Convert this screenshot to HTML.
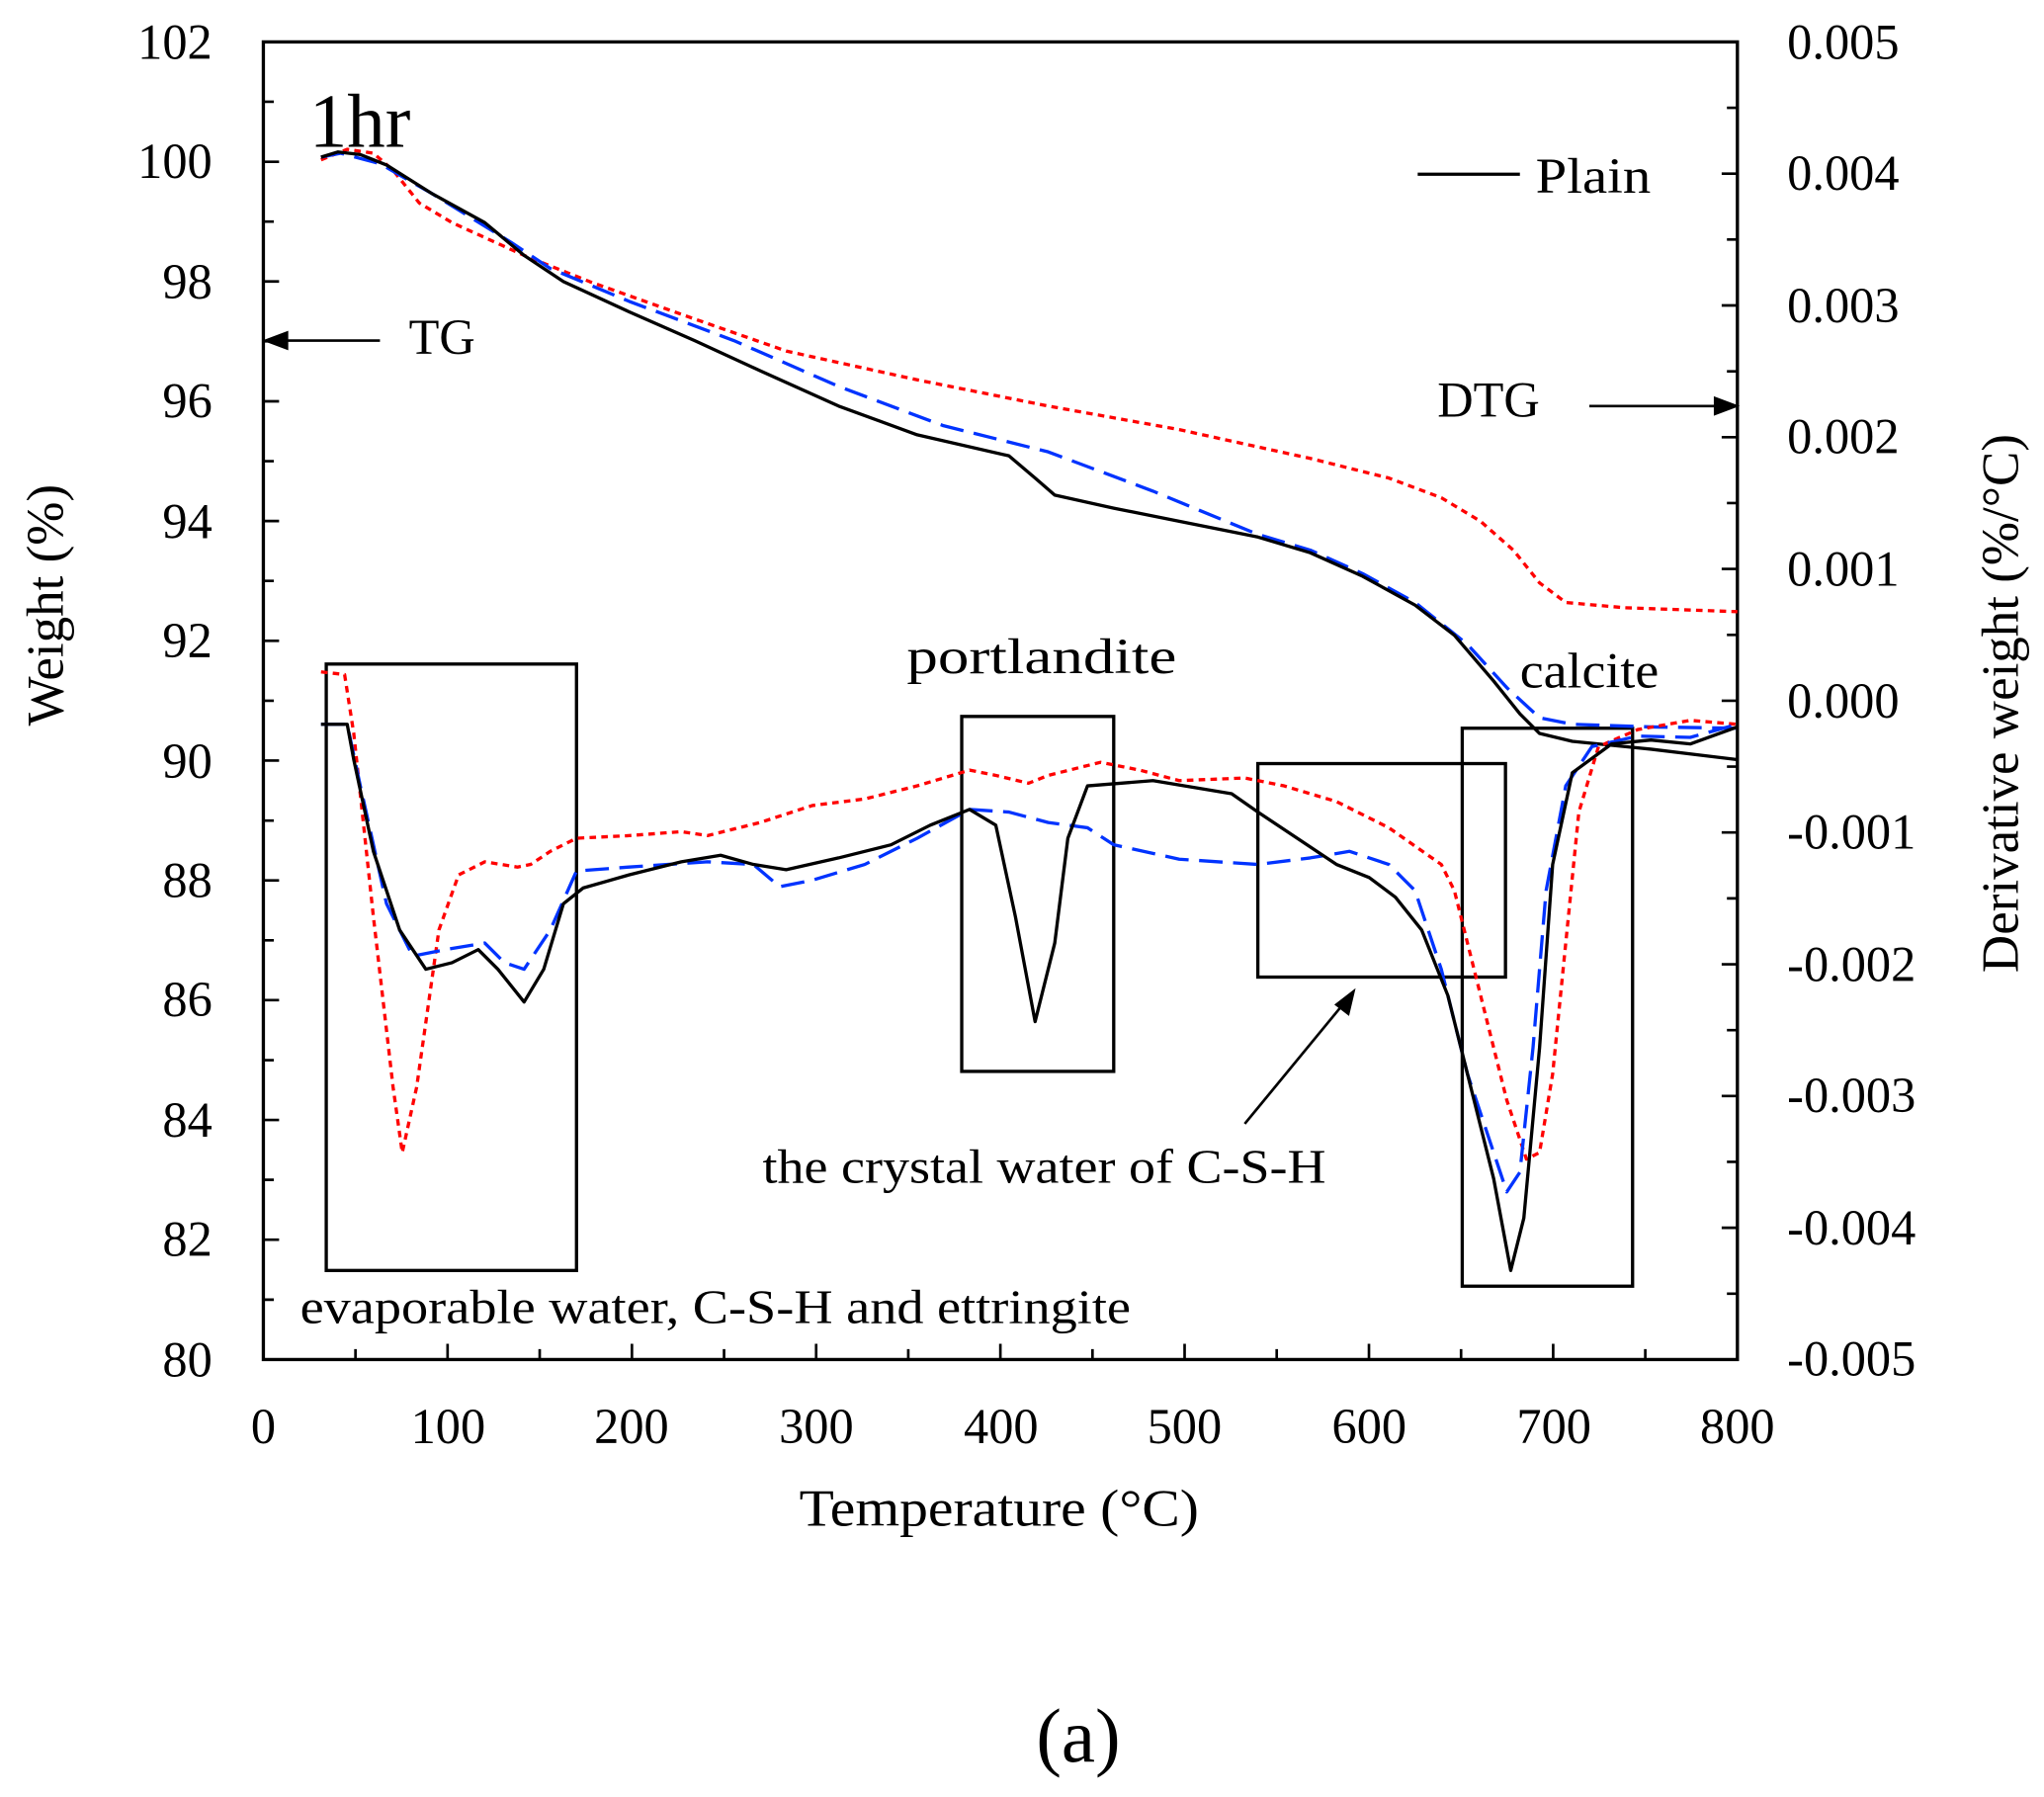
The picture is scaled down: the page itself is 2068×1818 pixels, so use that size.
<!DOCTYPE html>
<html><head><style>html,body{margin:0;padding:0;background:#fff;}svg{display:block}</style></head>
<body>
<svg width="2068" height="1818" viewBox="0 0 1560 1372" preserveAspectRatio="none" xmlns="http://www.w3.org/2000/svg" font-family="Liberation Serif, serif">
<rect x="201" y="32" width="1125" height="1006" fill="none" stroke="#000" stroke-width="2.5"/>
<g stroke="#000" stroke-width="2">
<path d="M201 77.7h8M201 123.5h12M201 169.2h8M201 214.9h12M201 260.6h8M201 306.4h12M201 352.1h8M201 397.8h12M201 443.5h8M201 489.3h12M201 535h8M201 580.7h12M201 626.5h8M201 672.2h12M201 717.9h8M201 763.6h12M201 809.4h8M201 855.1h12M201 900.8h8M201 946.5h12M201 992.3h8"/>
<path d="M1326 82.3h-8M1326 132.6h-12M1326 182.9h-8M1326 233.2h-12M1326 283.5h-8M1326 333.8h-12M1326 384.1h-8M1326 434.4h-12M1326 484.7h-8M1326 535h-12M1326 585.3h-8M1326 635.6h-12M1326 685.9h-8M1326 736.2h-12M1326 786.5h-8M1326 836.8h-12M1326 887.1h-8M1326 937.4h-12M1326 987.7h-8"/>
<path d="M271.3 1038v-8M341.6 1038v-12M411.9 1038v-8M482.3 1038v-12M552.6 1038v-8M622.9 1038v-12M693.2 1038v-8M763.5 1038v-12M833.8 1038v-8M904.1 1038v-12M974.4 1038v-8M1044.8 1038v-12M1115.1 1038v-8M1185.4 1038v-12M1255.7 1038v-8"/>
</g>
<g font-size="38" text-anchor="end">
<text x="162" y="45">102</text><text x="162" y="136">100</text><text x="162" y="228">98</text><text x="162" y="319">96</text><text x="162" y="411">94</text><text x="162" y="502">92</text><text x="162" y="594">90</text><text x="162" y="685">88</text><text x="162" y="776">86</text><text x="162" y="868">84</text><text x="162" y="959">82</text><text x="162" y="1051">80</text>
</g>
<g font-size="38" text-anchor="start">
<text x="1364" y="45">0.005</text><text x="1364" y="145">0.004</text><text x="1364" y="246">0.003</text><text x="1364" y="346">0.002</text><text x="1364" y="447">0.001</text><text x="1364" y="548">0.000</text><text x="1364" y="648">-0.001</text><text x="1364" y="749">-0.002</text><text x="1364" y="849">-0.003</text><text x="1364" y="950">-0.004</text><text x="1364" y="1050">-0.005</text>
</g>
<g font-size="38" text-anchor="middle">
<text x="201" y="1102">0</text><text x="342" y="1102">100</text><text x="482" y="1102">200</text><text x="623" y="1102">300</text><text x="764" y="1102">400</text><text x="904" y="1102">500</text><text x="1045" y="1102">600</text><text x="1186" y="1102">700</text><text x="1326" y="1102">800</text>
</g>
<text x="610" y="1165" font-size="40" textLength="305" lengthAdjust="spacingAndGlyphs">Temperature  (°C)</text>
<text transform="translate(48,462) rotate(-90)" font-size="40" text-anchor="middle">Weight  (%)</text>
<text transform="translate(1540,537) rotate(-90)" font-size="40" text-anchor="middle">Derivative  weight  (%/°C)</text>
<text x="823" y="1345" font-size="58" text-anchor="middle">(a)</text>
<text x="236" y="112" font-size="58">1hr</text>
<line x1="1082" y1="133" x2="1160" y2="133" stroke="#000" stroke-width="2.5"/>
<text x="1172" y="147" font-size="38" textLength="88" lengthAdjust="spacingAndGlyphs">Plain</text>
<text x="312" y="270" font-size="38">TG</text>
<text x="1097" y="318" font-size="38">DTG</text>
<text x="692" y="514" font-size="38" textLength="206" lengthAdjust="spacingAndGlyphs">portlandite</text>
<text x="1160" y="525" font-size="38" textLength="106" lengthAdjust="spacingAndGlyphs">calcite</text>
<text x="582" y="903" font-size="37" textLength="430" lengthAdjust="spacingAndGlyphs">the crystal water of C-S-H</text>
<text x="229" y="1010" font-size="37" textLength="634" lengthAdjust="spacingAndGlyphs">evaporable water, C-S-H and ettringite</text>
<g stroke="#000" stroke-width="2" fill="#000">
<line x1="290" y1="260" x2="215" y2="260"/><path d="M203 260l16-6v12z"/>
<line x1="1213" y1="310" x2="1312" y2="310"/><path d="M1325 310l-16-6v12z"/>
<line x1="950" y1="858" x2="1024" y2="768"/><path d="M1033 757l-4 17-9-7z"/>
</g>
<g fill="none" stroke="#000" stroke-width="2.5">
<rect x="249" y="507" width="191" height="463"/>
<rect x="734" y="547" width="116" height="271"/>
<rect x="960" y="583" width="189" height="163"/>
<rect x="1116" y="556" width="130" height="426"/>
</g>
<g fill="none" stroke-width="2.5" stroke-linejoin="round">
<polyline stroke="#ff0000" stroke-dasharray="5,4" points="245,122 265,114 285,117 300,130 320,155 345,170 400,195 450,215 520,240 600,268 700,290 800,310 900,328 1000,350 1060,365 1100,380 1130,398 1155,420 1175,445 1195,460 1240,464 1326,467"/>
<polyline stroke="#0033ff" stroke-dasharray="18,8" points="245,120 260,117 290,125 330,148 390,185 420,205 480,230 560,260 640,295 720,325 800,345 880,375 960,408 1000,420 1040,438 1080,460 1120,492 1150,525 1175,548 1200,553 1260,555 1326,556"/>
<polyline stroke="#000" points="245,120 258,116 275,118 295,126 330,148 370,170 400,195 430,215 480,238 530,260 580,283 640,310 700,332 770,348 790,365 805,378 850,388 900,398 960,410 1000,422 1040,440 1080,462 1110,485 1140,520 1160,545 1175,560 1200,566 1260,572 1326,580"/>
<polyline stroke="#ff0000" stroke-dasharray="5,4" points="245,513 263,515 270,560 285,700 300,830 307,880 318,830 335,710 350,668 370,658 395,662 405,660 420,650 440,640 480,638 520,635 540,638 580,628 620,615 660,610 700,600 740,588 760,592 785,598 800,592 840,582 870,588 900,596 950,594 980,600 1020,612 1060,632 1100,660 1110,680 1130,760 1150,840 1165,885 1175,880 1185,820 1195,720 1205,620 1220,570 1250,557 1290,550 1326,553"/>
<polyline stroke="#0033ff" stroke-dasharray="18,8" points="245,553 265,553 275,600 295,690 315,730 340,725 370,720 385,735 400,740 420,710 440,665 480,662 540,658 575,660 595,677 620,672 660,660 700,640 740,618 770,620 800,628 830,632 850,645 900,656 960,660 1000,655 1030,650 1060,660 1080,680 1100,740 1120,820 1140,880 1150,910 1160,895 1170,800 1180,680 1195,600 1215,570 1250,562 1290,563 1326,553"/>
<polyline stroke="#000" points="245,553 265,553 270,580 285,650 305,710 325,740 345,735 365,725 380,740 400,765 415,740 430,690 445,678 480,668 520,658 550,653 575,660 600,664 640,655 680,645 710,630 740,618 760,630 775,700 790,780 805,720 815,640 830,600 880,596 940,606 960,620 990,640 1020,660 1045,670 1065,685 1085,710 1105,760 1120,820 1140,900 1153,970 1163,930 1175,800 1185,660 1200,590 1230,568 1260,565 1290,568 1326,555"/>
</g>
</svg>
</body></html>
